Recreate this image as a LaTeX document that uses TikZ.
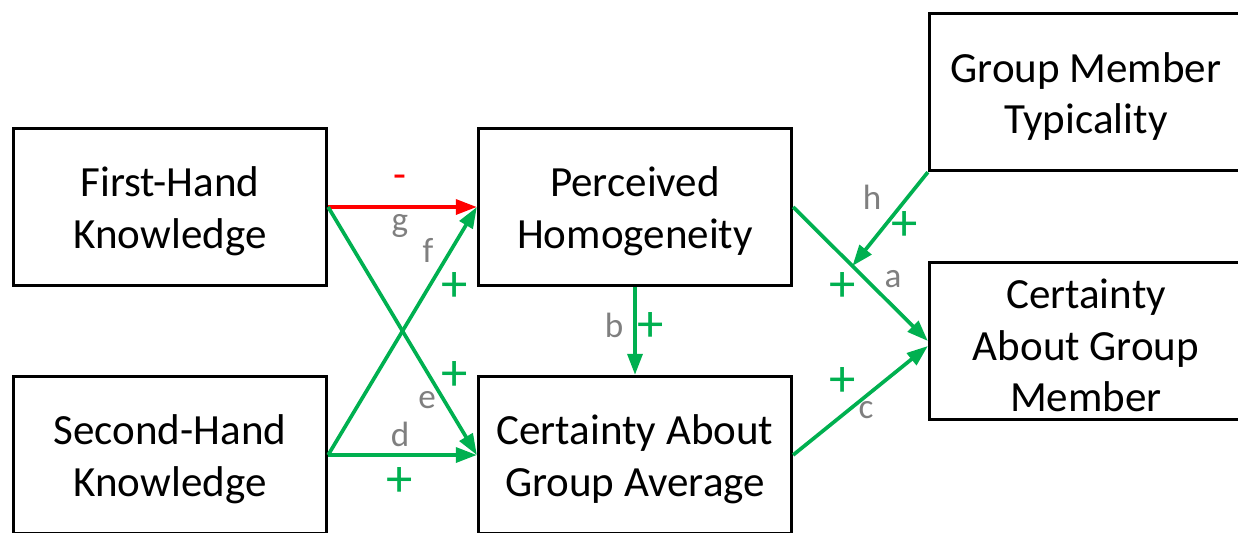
\documentclass[tikz,border=0pt]{standalone}
\usepackage{fontspec}
\setmainfont{Carlito}
\usetikzlibrary{calc,arrows.meta}
\definecolor{plusgreen}{HTML}{00B050}
\definecolor{minusred}{HTML}{FF0000}
\definecolor{labgray}{HTML}{7F7F7F}
\newcommand{\toppad}{\rule{0pt}{22pt}}

\begin{document}
\begin{tikzpicture}[x=0.02cm,y=-0.02cm,
  box/.style={draw,line width=1.9pt,minimum width=6.26cm,minimum height=3.14cm,inner sep=0pt,align=center,font=\fontsize{24.5}{29.3}\selectfont},
  link/.style={plusgreen,line width=2.1pt,-{Triangle[length=12pt,width=8.5pt]}},
  lab/.style={labgray,inner sep=0pt,font=\fontsize{20}{24}\selectfont},
  sgn/.style={plusgreen,inner sep=0pt,font=\fontsize{30}{34}\selectfont}]
\useasboundingbox (0,0) rectangle (1238,532);
\clip (0,0) rectangle (1238,532);
% the six variables
\node[box] (fhk) at (170,207) {\toppad First-Hand\\Knowledge};
\node[box] (shk) at (170,455) {\toppad Second-Hand\\Knowledge};
\node[box] (phom) at (635,207) {\toppad Perceived\\Homogeneity};
\node[box] (cga) at (635,455) {\toppad Certainty About\\Group Average};
\node[box] (gmt) at (1086,92) {\toppad Group Member\\Typicality};
\node[box] (cgm) at (1086,341) {\toppad Certainty\\About Group\\Member};
% paths
\draw[link,minusred] (fhk.east) -- (phom.west);
\draw[link] (shk.east) -- (phom.west);
\draw[link] (fhk.east) -- (cga.west);
\draw[link] (shk.east) -- (cga.west);
\draw[link] (phom.south) -- (cga.north);
\draw[link] (phom.east) -- (cgm.west);
\draw[link] (cga.east) -- ([yshift=-0.1cm]cgm.west);
\coordinate (moda) at ($(phom.east)!0.44!(cgm.west)$);
\draw[link] (gmt.south west) -- (moda);
% path labels and signs
\node[minusred,inner sep=0pt,font=\fontsize{24}{28}\selectfont] (sg) at (400,182) {-};
\node[lab] (lg) at (400,226) {g};
\node[lab] (lf) at (428,250) {f};
\node[sgn] (sf) at (455,287) {+};
\node[sgn] (se) at (455,376) {+};
\node[lab] (le) at (427,400) {e};
\node[lab] (ld) at (400,434) {d};
\node[sgn] (sd) at (400,482) {+};
\node[lab] (lb) at (614,325) {b};
\node[sgn] (sb) at (651,327) {+};
\node[lab] (lh) at (872,197) {h};
\node[sgn] (sh) at (905,226) {+};
\node[sgn] (sa) at (843,287) {+};
\node[lab] (la) at (893,279) {a};
\node[sgn] (sc) at (843,382) {+};
\node[lab] (lc) at (866,410) {c};
\end{tikzpicture}
\end{document}
